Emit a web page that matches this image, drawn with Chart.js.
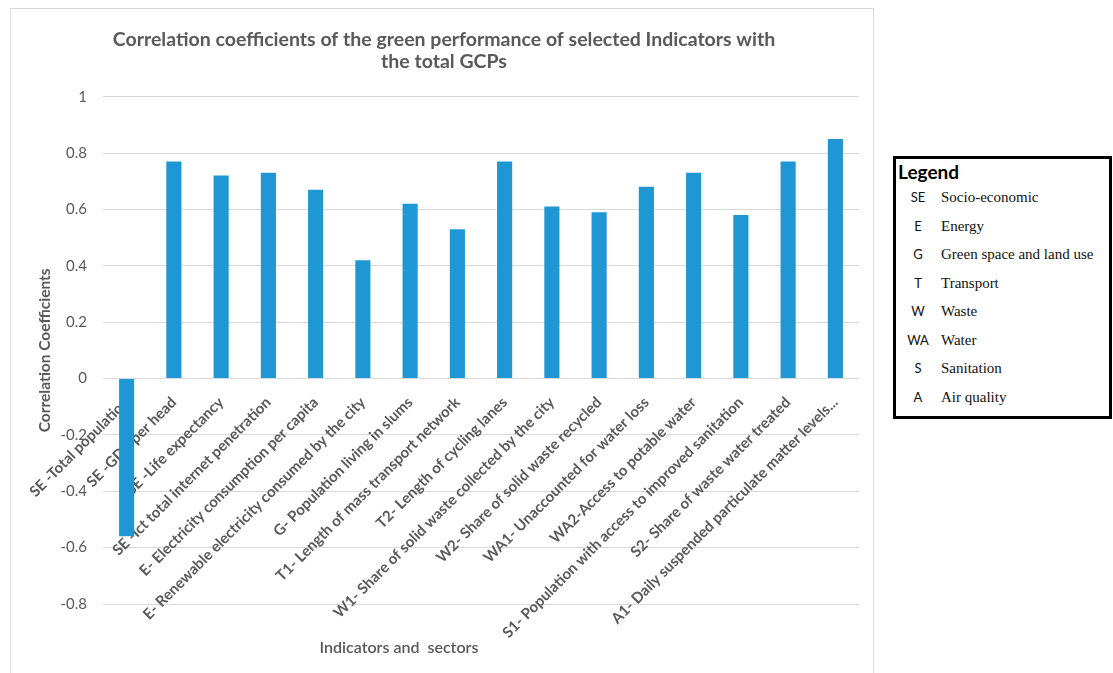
<!DOCTYPE html>
<html>
<head>
<meta charset="utf-8">
<title>Correlation coefficients</title>
<script src="https://cdn.jsdelivr.net/npm/chart.js@4/dist/chart.umd.min.js"></script>
<style>
  html, body { margin: 0; padding: 0; background: #fff; width: 1113px; height: 673px; overflow: hidden; }
  #frame { position: absolute; left: 10px; top: 8px; width: 862px; height: 720px; border: 1px solid #d9d9d9; }
  #wrap { position: absolute; left: 0; top: 0; width: 886px; height: 673px; }
  #xtitle { position: absolute; left: 299px; width: 200px; top: 637px; text-align: center;
            font: 600 16px Lato, sans-serif; color: #595959; white-space: pre; }
  #legend { position: absolute; left: 893px; top: 156px; width: 213px; height: 257px;
            border: 3px solid #000; background: #fff; }
  #legend .head { position: absolute; left: 2px; top: 2px; font: 700 19px/22px Lato, sans-serif; color: #000; }
  #legend .rows { position: absolute; left: 0; top: 30px; }
  #legend .row { display: flex; height: 28.57px; line-height: 28.57px; }
  #legend .code { width: 30px; margin-left: 7px; text-align: center; font: 13px Lato, sans-serif; color: #111; }
  #legend .name { margin-left: 8px; font: 15px "Liberation Serif", "Times New Roman", serif; color: #111; }
</style>
</head>
<body>
<div id="frame"></div>
<div id="wrap"><canvas id="chart" width="886" height="673"></canvas></div>
<div id="xtitle">Indicators and  sectors</div>
<div id="legend"><div class="head">Legend</div><div class="rows" id="legendRows"></div></div>
<script>
// Indicators (x categories)
const categories = [
  'SE -Total population',
  'SE -GDP per head',
  'SE -Life expectancy',
  'SE -Ict total internet penetration',
  'E- Electricity consumption per capita',
  'E- Renewable electricity consumed by the city',
  'G- Population living in slums',
  'T1- Length of mass transport network',
  'T2- Length of cycling lanes',
  'W1- Share of solid waste collected by the city',
  'W2- Share of solid waste recycled',
  'WA1- Unaccounted for water loss',
  'WA2-Access to potable water',
  'S1- Population with access to improved sanitation',
  'S2- Share of waste water treated',
  'A1- Daily suspended particulate matter levels...'
];

// Correlation coefficient of each indicator with the total GCPs
const coefficients = [-0.56, 0.77, 0.72, 0.73, 0.67, 0.42, 0.62, 0.53, 0.77, 0.61, 0.59, 0.68, 0.73, 0.58, 0.77, 0.85];

// Value axis ticks
const yTicks = [-0.8, -0.6, -0.4, -0.2, 0, 0.2, 0.4, 0.6, 0.8, 1];

// Sector legend
const legendCodes = ['SE', 'E', 'G', 'T', 'W', 'WA', 'S', 'A'];
const legendNames = ['Socio-economic', 'Energy', 'Green space and land use', 'Transport', 'Waste', 'Water', 'Sanitation', 'Air quality'];

const rows = document.getElementById('legendRows');
legendCodes.forEach((c, i) => {
  const r = document.createElement('div');
  r.className = 'row';
  r.innerHTML = '<span class="code"></span><span class="name"></span>';
  r.children[0].textContent = c;
  r.children[1].textContent = legendNames[i];
  rows.appendChild(r);
});

const TEXT = '#595959';
const GRID = '#d9d9d9';

new Chart(document.getElementById('chart'), {
  type: 'bar',
  data: {
    labels: categories,
    datasets: [{
      data: coefficients,
      backgroundColor: '#1f97d5',
      borderWidth: 0,
      categoryPercentage: 1,
      barPercentage: 0.32
    }]
  },
  options: {
    responsive: false,
    animation: false,
    layout: { padding: { left: 29, right: 27, top: 0, bottom: 69 } },
    plugins: {
      legend: { display: false },
      tooltip: { enabled: false },
      title: {
        display: true,
        text: ['Correlation coefficients of the green performance of selected Indicators with', 'the total GCPs'],
        color: TEXT,
        font: { family: 'Lato', size: 19.5, weight: 'bold', lineHeight: 1.13 },
        padding: { top: 29, bottom: 23.6 }
      }
    },
    scales: {
      x: {
        position: { y: 0 },
        z: 1,
        grid: { display: false, drawTicks: false },
        border: { display: false },
        ticks: {
          autoSkip: false,
          minRotation: 45,
          maxRotation: 45,
          padding: 15,
          color: TEXT,
          font: { family: 'Lato', size: 15, weight: 'bold' }
        },
        afterFit: s => { s.paddingLeft = 0; s.paddingRight = 0; }
      },
      y: {
        min: -0.8,
        max: 1,
        grid: { color: GRID, lineWidth: 1, drawTicks: false },
        border: { display: false },
        afterBuildTicks: s => { s.ticks = yTicks.map(v => ({ value: v })); },
        afterFit: s => { s.width = 74; },
        ticks: {
          padding: 16,
          color: TEXT,
          font: { family: 'Lato', size: 15 },
          callback: v => String(Number(v.toFixed(1)))
        },
        title: {
          display: true,
          text: 'Correlation Coefficients',
          color: TEXT,
          font: { family: 'Lato', size: 15.5, weight: 'bold', lineHeight: 1.2 },
          padding: { top: 6.2, bottom: 0 }
        }
      }
    }
  }
});
</script>
</body>
</html>
